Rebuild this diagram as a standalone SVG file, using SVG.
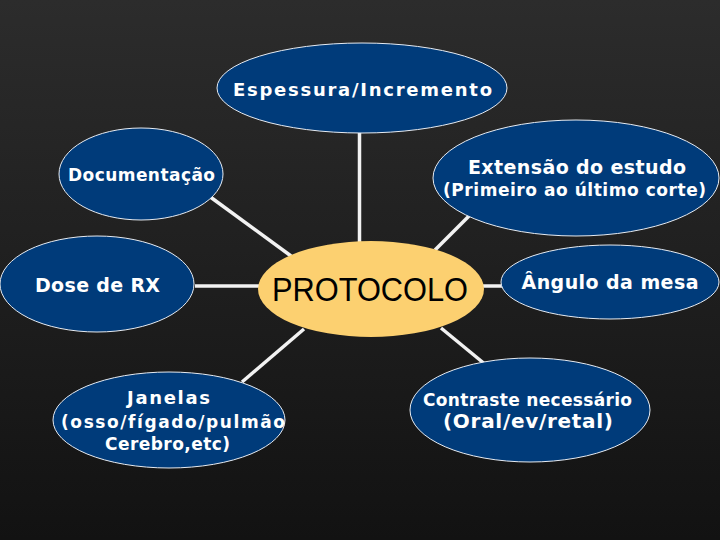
<svg xmlns="http://www.w3.org/2000/svg" width="720" height="540" viewBox="0 0 720 540">
<defs>
<linearGradient id="bg" x1="0" y1="0" x2="0" y2="1">
<stop offset="0" stop-color="#2c2c2c"/>
<stop offset="1" stop-color="#121212"/>
</linearGradient>
<style>
.n{fill:#003b7a;stroke:#e6ebf2;stroke-width:1}
.c{fill:#fcd070;stroke:none}
.t{font-family:"DejaVu Sans",Verdana,sans-serif;font-weight:bold;fill:#ffffff;text-anchor:middle}
.p{font-family:"Liberation Sans",Arial,sans-serif;fill:#000;text-anchor:middle}
.e{stroke:#f2f2f2;stroke-width:3.5;fill:none}
</style>
</defs>
<rect width="720" height="540" fill="url(#bg)"/>
<g id="connectors">
<line class="e" x1="359.5" y1="133" x2="359.5" y2="242"/>
<line class="e" x1="209" y1="196" x2="291" y2="256"/>
<line class="e" x1="469" y1="216" x2="435" y2="250"/>
<line class="e" x1="195" y1="286" x2="259" y2="286"/>
<line class="e" x1="483" y1="286" x2="502" y2="286"/>
<line class="e" x1="304" y1="329" x2="242" y2="382"/>
<line class="e" x1="441" y1="328" x2="486" y2="365"/>
</g>
<g id="espessura">
<ellipse class="n" cx="362" cy="88" rx="145" ry="45"/>
<text class="t" x="362.5" y="96" font-size="18" textLength="259" lengthAdjust="spacing">Espessura/Incremento</text>
</g>
<g id="documentacao">
<ellipse class="n" cx="141" cy="174" rx="82" ry="46"/>
<text class="t" x="141.5" y="181" font-size="17" textLength="147" lengthAdjust="spacing">Documentação</text>
</g>
<g id="extensao">
<ellipse class="n" cx="576" cy="178" rx="143" ry="58"/>
<text class="t" x="577" y="174" font-size="19" textLength="218" lengthAdjust="spacing">Extensão do estudo</text>
<text class="t" x="574.5" y="196" font-size="17" textLength="263" lengthAdjust="spacing">(Primeiro ao último corte)</text>
</g>
<g id="dose">
<ellipse class="n" cx="97" cy="284" rx="97" ry="48"/>
<text class="t" x="97.5" y="292" font-size="19" textLength="125" lengthAdjust="spacing">Dose de RX</text>
</g>
<g id="protocolo">
<ellipse class="c" cx="371" cy="289" rx="113" ry="48"/>
<text class="p" x="370" y="301" font-size="33" textLength="196" lengthAdjust="spacingAndGlyphs">PROTOCOLO</text>
</g>
<g id="angulo">
<ellipse class="n" cx="610" cy="282" rx="109" ry="37"/>
<text class="t" x="610" y="289" font-size="19" textLength="177" lengthAdjust="spacing">Ângulo da mesa</text>
</g>
<g id="janelas">
<ellipse class="n" cx="169" cy="420" rx="116" ry="48"/>
<text class="t" x="168.5" y="404" font-size="18" textLength="83" lengthAdjust="spacing">Janelas</text>
<text class="t" x="173" y="428" font-size="17" textLength="224" lengthAdjust="spacing">(osso/fígado/pulmão</text>
<text class="t" x="167.5" y="450" font-size="17" textLength="125" lengthAdjust="spacing">Cerebro,etc)</text>
</g>
<g id="contraste">
<ellipse class="n" cx="530" cy="410" rx="120" ry="52"/>
<text class="t" x="527.5" y="406" font-size="17" textLength="209" lengthAdjust="spacing">Contraste necessário</text>
<text class="t" x="528" y="428" font-size="20" textLength="170" lengthAdjust="spacing">(Oral/ev/retal)</text>
</g>
</svg>
